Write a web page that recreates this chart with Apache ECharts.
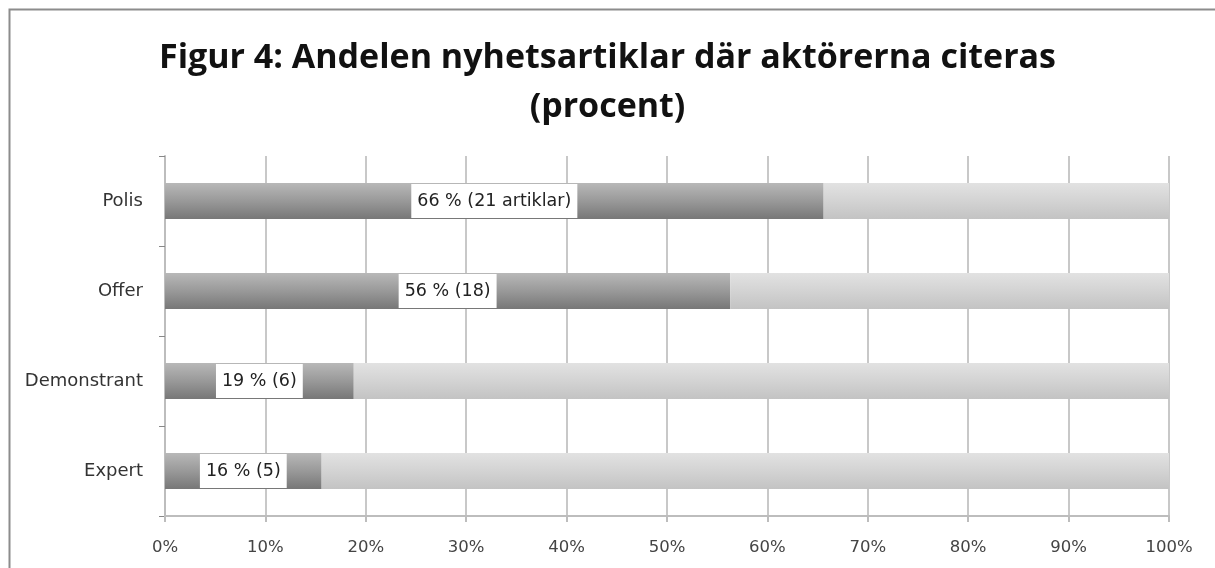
<!DOCTYPE html>
<html>
<head>
<meta charset="utf-8">
<script src="https://cdn.jsdelivr.net/npm/echarts@6/dist/echarts.min.js"></script>
<style>
html,body{margin:0;padding:0;background:#fff;}
#chart{width:1215px;height:568px;}
</style>
</head>
<body>
<div id="chart"></div>
<script>
const categories = ['Expert', 'Demonstrant', 'Offer', 'Polis'];
const shares = [15.6, 18.8, 56.3, 65.6];
const labelTexts = ['16 % (5)', '19 % (6)', '56 % (18)', '66 % (21 artiklar)'];
const rest = shares.map(v => +(100 - v).toFixed(1));
const xTicks = [0, 10, 20, 30, 40, 50, 60, 70, 80, 90, 100];

const chart = echarts.init(document.getElementById('chart'));
const font = '"DejaVu Sans", sans-serif';
chart.setOption({
  animation: false,
  backgroundColor: '#fff',
  title: {
    text: 'Figur 4: Andelen nyhetsartiklar där aktörerna citeras\n(procent)',
    left: 'center',
    top: 29,
    textStyle: { fontFamily: '"Open Sans", sans-serif', fontWeight: 'bold', fontSize: 34, lineHeight: 49, color: '#111' }
  },
  graphic: [{
    type: 'rect', left: 7, top: 7, silent: true,
    shape: { width: 1400, height: 800 },
    style: { fill: 'none', stroke: '#8c8c8c', lineWidth: 2 }
  }],
  grid: { left: 165, right: 46, top: 156, bottom: 52 },
  xAxis: {
    type: 'value', min: 0, max: 100, interval: 10,
    axisLine: { show: true, lineStyle: { color: '#bdbdbd', width: 2 } },
    axisTick: { show: true, length: 6, lineStyle: { color: '#bdbdbd', width: 2 } },
    axisLabel: { formatter: v => v + '%', color: '#444', fontFamily: font, fontSize: 16.5, margin: 23 },
    splitLine: { show: true, lineStyle: { color: '#c8c8c8', width: 2 } }
  },
  yAxis: {
    type: 'category', data: categories,
    axisLine: { show: true, lineStyle: { color: '#bdbdbd', width: 2 } },
    axisTick: { show: true, length: 6, lineStyle: { color: '#888', width: 1 } },
    axisLabel: { color: '#333', fontFamily: font, fontSize: 18, margin: 22 }
  },
  series: [{
    type: 'bar', stack: 'a', barWidth: '40%',
    data: shares,
    itemStyle: {
      color: new echarts.graphic.LinearGradient(0, 0, 0, 1, [
        { offset: 0, color: '#b8b8b8' },
        { offset: 0.5, color: '#999999' },
        { offset: 1, color: '#777777' }
      ])
    },
    label: {
      show: true, position: 'inside',
      formatter: p => labelTexts[p.dataIndex],
      backgroundColor: '#fff', color: '#222',
      fontFamily: font, fontSize: 17.5, padding: [8, 6]
    }
  }, {
    type: 'bar', stack: 'a', barWidth: '40%',
    data: rest,
    itemStyle: {
      color: new echarts.graphic.LinearGradient(0, 0, 0, 1, [
        { offset: 0, color: '#e2e2e2' },
        { offset: 0.5, color: '#d3d3d3' },
        { offset: 1, color: '#c3c3c3' }
      ])
    }
  }]
});
</script>
</body>
</html>
